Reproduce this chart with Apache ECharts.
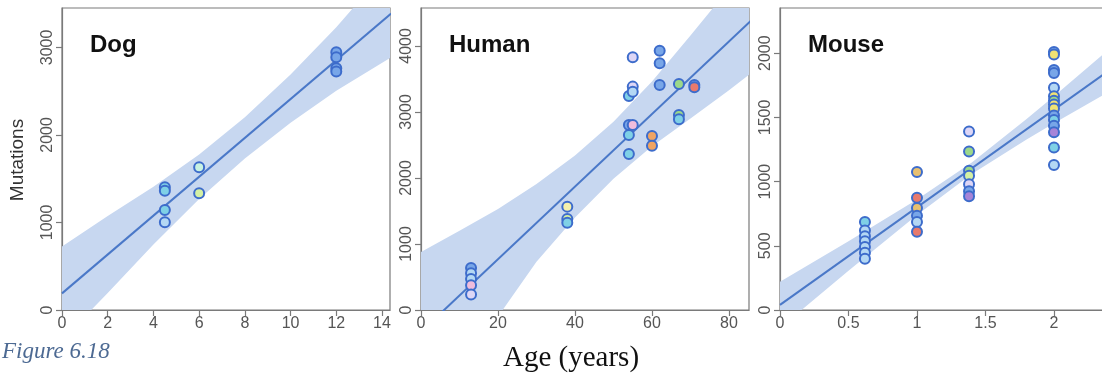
<!DOCTYPE html>
<html>
<head>
<meta charset="utf-8">
<script src="https://cdn.jsdelivr.net/npm/echarts@6/dist/echarts.min.js"></script>
<style>
  html, body { margin: 0; padding: 0; background: #fff; }
  #chart { width: 1102px; height: 375px; }
</style>
</head>
<body>
<div id="chart"></div>
<script>
// ---- Dog ----
const dogAge = [4.5, 4.5, 4.5, 4.5, 6, 6, 12, 12, 12, 12];
const dogMut = [1402, 1363, 1143, 1002, 1631, 1333, 2945, 2888, 2762, 2724];
const dogSample = [1, 1, 1, 0, 10, 2, 9, 9, 9, 9];
const dogFitX = [0, 14.4];
const dogFitY = [190, 3387];
const dogBandX = [0, 2, 4, 6, 8, 10, 12, 14.4];
const dogBandLow = [-344, 194, 748, 1267, 1731, 2140, 2504, 2887];
const dogBandHigh = [724, 1074, 1408, 1777, 2201, 2690, 3230, 3950];
const dogXTicks = [0, 2, 4, 6, 8, 10, 12, 14];
const dogYTicks = [0, 1000, 2000, 3000];

// ---- Human ----
const humanAge = [13, 13, 13, 13, 13, 38, 38, 38, 54, 54, 54, 54, 55, 55, 55, 55,
                  60, 60, 62, 62, 62, 67, 67, 67, 71, 71];
const humanMut = [635, 555, 470, 375, 235, 1566, 1379, 1323, 3242, 2803, 2652, 2364,
                  3829, 3384, 3308, 2803, 2636, 2490, 3929, 3737, 3409, 3424, 2955, 2889,
                  3409, 3374];
const humanSample = [9, 0, 0, 4, 7, 12, 2, 1, 1, 9, 1, 1, 7, 7, 0, 4, 5, 5, 9, 9, 9,
                     11, 11, 1, 9, 6];
const humanFitX = [0, 86];
const humanFitY = [-330, 4400];
const humanBandX = [0, 10, 20, 30, 40, 50, 60, 70, 80, 86];
const humanBandLow = [-1540, -760, -100, 730, 1400, 1990, 2480, 2900, 3330, 3600];
const humanBandHigh = [880, 1200, 1530, 1910, 2340, 2850, 3460, 4160, 4870, 5300];
const humanXTicks = [0, 20, 40, 60, 80];
const humanYTicks = [0, 1000, 2000, 3000, 4000];

// ---- Mouse ----
const mouseAge = [0.62, 0.62, 0.62, 0.62, 0.62, 0.62, 0.62,
                  1, 1, 1, 1, 1, 1,
                  1.38, 1.38, 1.38, 1.38, 1.38, 1.38, 1.38,
                  2, 2, 2, 2, 2, 2, 2, 2, 2, 2, 2, 2, 2, 2, 2];
const mouseMut = [685, 620, 575, 535, 490, 445, 400,
                  1075, 875, 795, 735, 685, 610,
                  1390, 1235, 1085, 1045, 980, 925, 885,
                  2010, 1990, 1870, 1845, 1730, 1665, 1630, 1600, 1570, 1515, 1480, 1435,
                  1385, 1265, 1130];
const mouseSample = [1, 0, 0, 0, 0, 0, 0,
                     13, 6, 13, 9, 0, 6,
                     7, 11, 11, 2, 7, 9, 8,
                     9, 3, 9, 9, 0, 3, 11, 3, 3, 9, 1, 9, 8, 1, 0];
const mouseFitX = [0, 2.5];
const mouseFitY = [40, 1940];
const mouseBandX = [0, 0.5, 1.0, 1.4, 1.8, 2.0, 2.5];
const mouseBandLow = [-140, 305, 740, 1059, 1328, 1455, 1760];
const mouseBandHigh = [220, 535, 860, 1149, 1488, 1665, 2120];
const mouseXTicks = [0, 0.5, 1, 1.5, 2];
const mouseYTicks = [0, 500, 1000, 1500, 2000];

const panelNames = ['Dog', 'Human', 'Mouse'];

// fill colours of the individual samples
const sampleFill = ['#b4d8f4', '#7fd0e6', '#d4f0a4', '#f0e274', '#f0bcdc', '#f0a462',
                    '#e87a6c', '#ddd6f6', '#a684d8', '#78a6e8', '#c8f2e2', '#9cd88a',
                    '#f4f0ac', '#e8c070'];

const AXIS_GREY = '#7a7a7a';
const LABEL_GREY = '#555';
const LINE_BLUE = '#4a78c8';
const BAND_BLUE = '#c7d7f0';
const RING_BLUE = '#3d6ccb';
const SANS = '"Liberation Sans", Arial, sans-serif';
const SERIF = '"Liberation Serif", "Times New Roman", serif';

const panels = [
  { age: dogAge, mut: dogMut, sample: dogSample, fitX: dogFitX, fitY: dogFitY,
    bandX: dogBandX, bandLow: dogBandLow, bandHigh: dogBandHigh,
    xTicks: dogXTicks, yTicks: dogYTicks, xMax: 14.35, yMax: 3450,
    grid: { left: 62, top: 8, width: 328, height: 302 } },
  { age: humanAge, mut: humanMut, sample: humanSample, fitX: humanFitX, fitY: humanFitY,
    bandX: humanBandX, bandLow: humanBandLow, bandHigh: humanBandHigh,
    xTicks: humanXTicks, yTicks: humanYTicks, xMax: 85.2, yMax: 4575,
    grid: { left: 421, top: 8, width: 328, height: 302 } },
  // the mouse panel runs past the right edge of the canvas
  { age: mouseAge, mut: mouseMut, sample: mouseSample, fitX: mouseFitX, fitY: mouseFitY,
    bandX: mouseBandX, bandLow: mouseBandLow, bandHigh: mouseBandHigh,
    xTicks: mouseXTicks, yTicks: mouseYTicks, xMax: 2.482, yMax: 2352,
    grid: { left: 780, top: 8, width: 340, height: 302 } }
];

const grids = [], xAxes = [], yAxes = [], series = [], titles = [];

panels.forEach((p, i) => {
  grids.push(Object.assign({ show: true, borderColor: AXIS_GREY, borderWidth: 1.2,
                             backgroundColor: 'transparent', containLabel: false,
                             outerBoundsMode: 'none' }, p.grid));

  xAxes.push({
    gridIndex: i, type: 'value', min: 0, max: p.xMax,
    axisLine: { show: true, onZero: false, lineStyle: { color: AXIS_GREY, width: 1.2 } },
    axisTick: { show: true, inside: false, length: 6, customValues: p.xTicks,
                lineStyle: { color: AXIS_GREY, width: 1.2 } },
    axisLabel: { customValues: p.xTicks, color: LABEL_GREY, fontSize: 16,
                 fontFamily: SANS, margin: 6, formatter: v => String(v) },
    splitLine: { show: false }
  });

  yAxes.push({
    gridIndex: i, type: 'value', min: 0, max: p.yMax,
    axisLine: { show: true, onZero: false, lineStyle: { color: AXIS_GREY, width: 1.2 } },
    axisTick: { show: true, inside: false, length: 6, customValues: p.yTicks,
                lineStyle: { color: AXIS_GREY, width: 1.2 } },
    axisLabel: { customValues: p.yTicks, color: LABEL_GREY, fontSize: 16,
                 fontFamily: SANS, margin: 6, rotate: 90, formatter: v => String(v) },
    splitLine: { show: false }
  });

  // confidence band of the fit
  series.push({
    type: 'custom', xAxisIndex: i, yAxisIndex: i, clip: true, silent: true, z: 1,
    data: [[0, 0]],
    renderItem: (params, api) => {
      const upper = p.bandX.map((x, k) => api.coord([x, p.bandHigh[k]]));
      const lower = p.bandX.map((x, k) => api.coord([x, p.bandLow[k]])).reverse();
      const cs = params.coordSys;
      return {
        type: 'group',
        clipPath: { type: 'rect', shape: { x: cs.x, y: cs.y, width: cs.width, height: cs.height } },
        children: [{
          type: 'polygon',
          shape: { points: upper.concat(lower) },
          style: { fill: BAND_BLUE, stroke: null }
        }]
      };
    }
  });

  // regression line
  series.push({
    type: 'line', xAxisIndex: i, yAxisIndex: i, clip: true, silent: true, z: 2,
    symbol: 'none',
    data: p.fitX.map((x, k) => [x, p.fitY[k]]),
    lineStyle: { color: LINE_BLUE, width: 2 }
  });

  // samples
  series.push({
    type: 'scatter', xAxisIndex: i, yAxisIndex: i, z: 3,
    symbol: 'circle', symbolSize: 10,
    data: p.age.map((x, k) => [x, p.mut[k]]),
    itemStyle: {
      color: prm => sampleFill[p.sample[prm.dataIndex]],
      borderColor: RING_BLUE, borderWidth: 2, opacity: 1
    }
  });

  titles.push({
    text: panelNames[i], left: p.grid.left + 28, top: 33, padding: 0,
    textStyle: { fontFamily: SANS, fontWeight: 'bold', fontSize: 24, color: '#111' }
  });
});

const chart = echarts.init(document.getElementById('chart'), null, { renderer: 'canvas' });
chart.setOption({
  animation: false,
  backgroundColor: '#fff',
  title: titles,
  grid: grids,
  xAxis: xAxes,
  yAxis: yAxes,
  series: series,
  graphic: [
    { type: 'text', x: 18, y: 160, rotation: Math.PI / 2,
      style: { text: 'Mutations', font: '19px ' + SANS, fill: '#333',
               align: 'center', verticalAlign: 'middle',
               textAlign: 'center', textVerticalAlign: 'middle' } },
    { type: 'text', x: 2, y: 352,
      style: { text: 'Figure 6.18', font: 'italic 23px ' + SERIF, fill: '#4d6a93',
               align: 'left', verticalAlign: 'middle',
               textAlign: 'left', textVerticalAlign: 'middle' } },
    { type: 'text', x: 571, y: 358,
      style: { text: 'Age (years)', font: '29px ' + SERIF, fill: '#111',
               align: 'center', verticalAlign: 'middle',
               textAlign: 'center', textVerticalAlign: 'middle' } }
  ]
});
</script>
</body>
</html>
